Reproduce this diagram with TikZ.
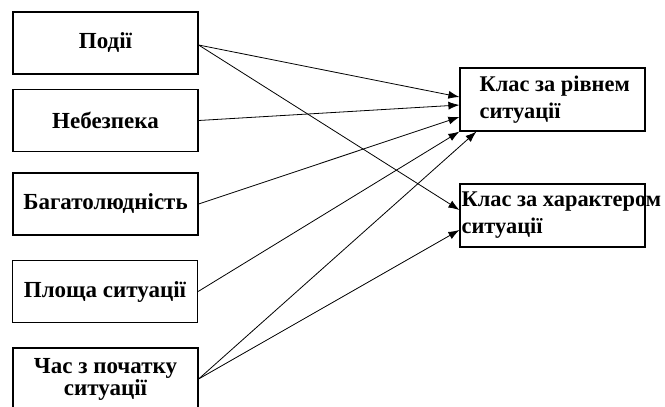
\documentclass[tikz,border=0pt]{standalone}
\usepackage{fontspec}
\setmainfont{Liberation Serif}
\usetikzlibrary{arrows.meta, positioning}
\tikzset{
    factor box/.style={draw, line width=1.2pt, minimum width=185pt, minimum height=62pt,
        align=center, font=\bfseries\fontsize{23}{22}\selectfont},
    class box/.style={draw, line width=1.2pt, minimum width=185pt, minimum height=63pt},
    class text/.style={anchor=west, inner sep=0pt, align=left,
        font=\bfseries\fontsize{22.4}{27}\selectfont},
    link/.style={-{Latex[length=11pt, width=8pt]}, line width=0.8pt}
}

\begin{document}
\begin{tikzpicture}[x=1pt, y=-1pt]
\useasboundingbox (0,0) rectangle (665,407);

% Фактори ситуації
\node[factor box] (podii) at (105.5,43) {Події};
\node[factor box] (nebezpeka) at (105.5,120.5) {Небезпека};
\node[factor box] (bagato) at (105.5,204) {Багатолюдність};
\node[factor box] (ploshcha) at (105,291.5) {Площа ситуації};
\node[factor box] (chas) at (105.5,379) {Час з початку\\ситуації};

% Класи ситуації
\node[class box] (rivnem) at (552.5,99.5) {};
\node[class box] (kharakter) at (552.5,215.5) {};
\node[class text] (rivnemText) at ([xshift=20pt]rivnem.west) {Клас за рівнем\\ситуації};
\node[class text] (kharakterText) at ([xshift=2pt]kharakter.west) {Клас за характером\\ситуації};

% Зв'язки між факторами та класами
\draw[link] ([yshift=-2pt]podii.east) -- ([yshift=2.5pt]rivnem.west);
\draw[link] ([yshift=-2pt]podii.east) -- ([yshift=5.5pt]kharakter.west);
\draw[link] (nebezpeka.east) -- ([yshift=-5.5pt]rivnem.west);
\draw[link] (bagato.east) -- ([yshift=-17.5pt]rivnem.west);
\draw[link] (ploshcha.east) -- (rivnem.south west);
\draw[link] (chas.east) -- ([xshift=17pt]rivnem.south west);
\draw[link] (chas.east) -- ([yshift=-14.5pt]kharakter.west);

\end{tikzpicture}
\end{document}
